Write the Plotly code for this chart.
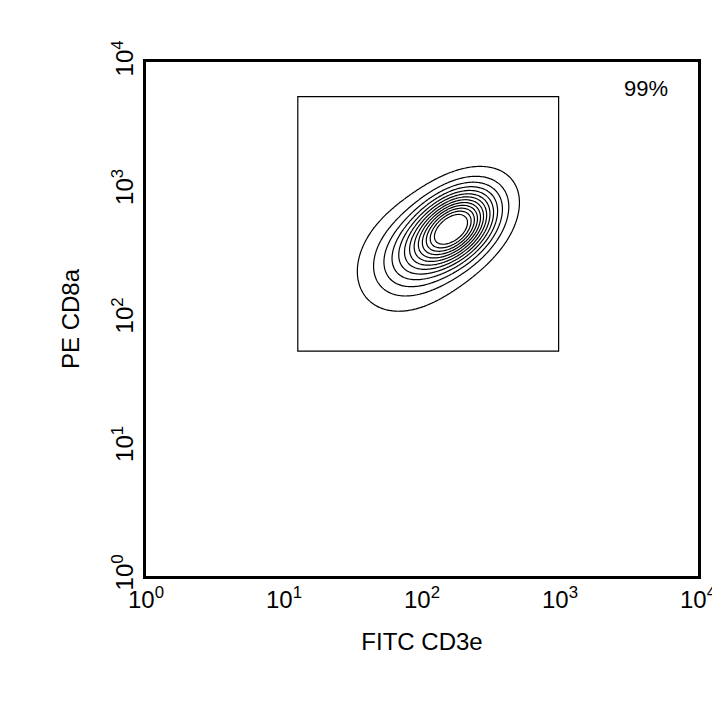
import numpy as np
import plotly.graph_objects as go

# Population (log10 units): two gaussian components
comp_center_x = [2.24, 1.95]
comp_center_y = [2.72, 2.50]
comp_sigma_x = [0.19, 0.22]
comp_sigma_y = [0.19, 0.23]
comp_corr = [0.4, 0.3]
comp_weight = [1.0, 0.3]

gate_x = [1.10, 2.99]
gate_y = [1.75, 3.73]
gate_label = "99%"

tick_vals = [0, 1, 2, 3, 4]
tick_text = ["10<sup>0</sup>", "10<sup>1</sup>", "10<sup>2</sup>", "10<sup>3</sup>", "10<sup>4</sup>"]

gx = np.linspace(1.0, 3.2, 220)
gy = np.linspace(1.5, 3.6, 220)
X, Y = np.meshgrid(gx, gy)
Z = np.zeros_like(X)
for cx, cy, sx, sy, r, w in zip(comp_center_x, comp_center_y, comp_sigma_x,
                                comp_sigma_y, comp_corr, comp_weight):
    u = (X - cx) / sx
    v = (Y - cy) / sy
    Z += w * np.exp(-(u * u - 2 * r * u * v + v * v) / (2 * (1 - r * r)))

fig = go.Figure()
fig.add_trace(go.Contour(
    x=gx, y=gy, z=Z,
    contours=dict(coloring='lines', start=0.05, end=0.95, size=0.075),
    line=dict(color='black', width=1.2),
    colorscale=[[0, 'black'], [1, 'black']],
    showscale=False, hoverinfo='skip'
))
fig.add_shape(type='rect', x0=gate_x[0], x1=gate_x[1], y0=gate_y[0], y1=gate_y[1],
              line=dict(color='black', width=1.2))
fig.add_annotation(text=gate_label, x=3.62, y=3.79, showarrow=False,
                   font=dict(size=22, color='black'))

axis_common = dict(range=[0, 4], tickvals=tick_vals, ticktext=tick_text,
                   showgrid=False, zeroline=False, showline=True, mirror=True,
                   linecolor='black', linewidth=3, ticks='',
                   tickfont=dict(size=24, color='black'))
fig.update_layout(
    width=720, height=720,
    margin=dict(l=138, r=20, t=54, b=152),
    plot_bgcolor='white', paper_bgcolor='white',
    font=dict(family='Liberation Sans, Arial, sans-serif', color='black'),
    xaxis=dict(title=dict(text='FITC CD3e', font=dict(size=24), standoff=22), **axis_common),
    yaxis=dict(title=dict(text='PE CD8a', font=dict(size=24), standoff=22),
               tickangle=-90, **axis_common),
    showlegend=False
)
fig.write_html("out.html")
